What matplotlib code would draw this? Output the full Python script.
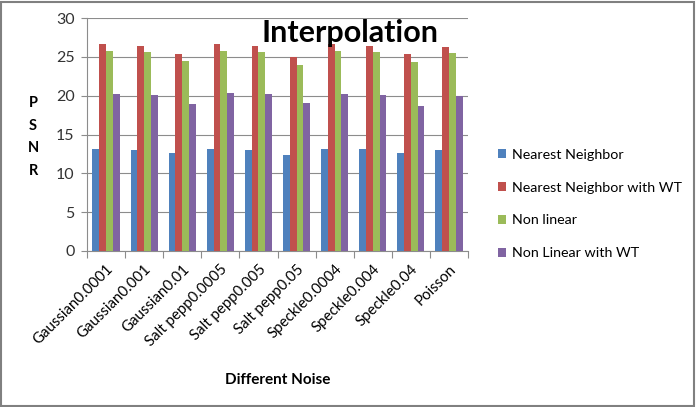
import matplotlib
matplotlib.use("Agg")
import matplotlib.pyplot as plt
import numpy as np
from matplotlib.patches import Rectangle

plt.rcParams['font.family'] = ['Lato', 'DejaVu Sans']

categories = ["Gaussian0.0001", "Gaussian0.001", "Gaussian0.01", "Salt pepp0.0005",
              "Salt pepp0.005", "Salt pepp0.05", "Speckle0.0004", "Speckle0.004",
              "Speckle0.04", "Poisson"]
nearest = [13.1, 13.0, 12.6, 13.1, 13.0, 12.4, 13.1, 13.1, 12.6, 13.0]
nearest_wt = [26.6, 26.4, 25.4, 26.6, 26.4, 25.0, 26.6, 26.4, 25.4, 26.3]
nonlinear = [25.8, 25.6, 24.4, 25.8, 25.6, 23.9, 25.8, 25.6, 24.3, 25.5]
nonlinear_wt = [20.2, 20.1, 18.9, 20.3, 20.2, 19.1, 20.2, 20.1, 18.7, 20.0]
series_names = ["Nearest Neighbor", "Nearest Neighbor with WT", "Non linear", "Non Linear with WT"]
colors = ["#4F81BD", "#C0504D", "#9BBB59", "#8064A2"]

fig = plt.figure(figsize=(6.97, 4.07), dpi=100)
ax = fig.add_axes([87/697, 1-251/407, (468-87)/697, (251-18)/407])

x = np.arange(len(categories))
w = 0.178
for i, (vals, name, c) in enumerate(zip([nearest, nearest_wt, nonlinear, nonlinear_wt], series_names, colors)):
    ax.bar(x + (i - 1.5) * w, vals, width=w, color=c, label=name, zorder=3)

ax.set_xlim(-0.5, len(categories) - 0.5)
ax.set_ylim(0, 30)
ax.set_yticks(range(0, 31, 5))
ax.grid(axis='y', color='#8C8C8C', linewidth=0.8, zorder=0)
ax.set_xticks(np.arange(-0.5, len(categories), 1.0), minor=False)
ax.set_xticklabels([])
ax.set_xticks(x, minor=True)
ax.set_xticklabels(categories, minor=True, rotation=45, ha='right', rotation_mode='anchor', fontsize=10.8)
ax.tick_params(axis='x', which='minor', length=0, pad=8)
ax.tick_params(axis='x', which='major', length=5, color='#8C8C8C', direction='out')
ax.tick_params(axis='y', length=4, color='#8C8C8C', labelsize=11.5, colors='#333333', pad=5)
for s in ['top', 'right']:
    ax.spines[s].set_visible(False)
for s in ['left', 'bottom']:
    ax.spines[s].set_color('#8C8C8C')

fig.text(350/697, 1-33/407, "Interpolation", fontsize=22, fontweight='bold', ha='center', va='center')
fig.text(33/697, 1-137/407, "P\nS\nN\nR", fontsize=10.5, fontweight='bold', ha='center', va='center', linespacing=1.8)
fig.text(278/697, 1-380/407, "Different Noise", fontsize=11, fontweight='bold', ha='center', va='center')

ax.legend(loc='center left', bbox_to_anchor=(485/697, 1-204/407), bbox_transform=fig.transFigure,
          frameon=False, fontsize=10.3, handlelength=0.6, handleheight=0.6, labelspacing=1.45, handletextpad=0.4)

fig.patches.append(Rectangle((0.002, 0.003), 0.994, 0.993, transform=fig.transFigure,
                             fill=False, edgecolor='#808080', linewidth=1.5))
fig.savefig("out.png", dpi=100)
